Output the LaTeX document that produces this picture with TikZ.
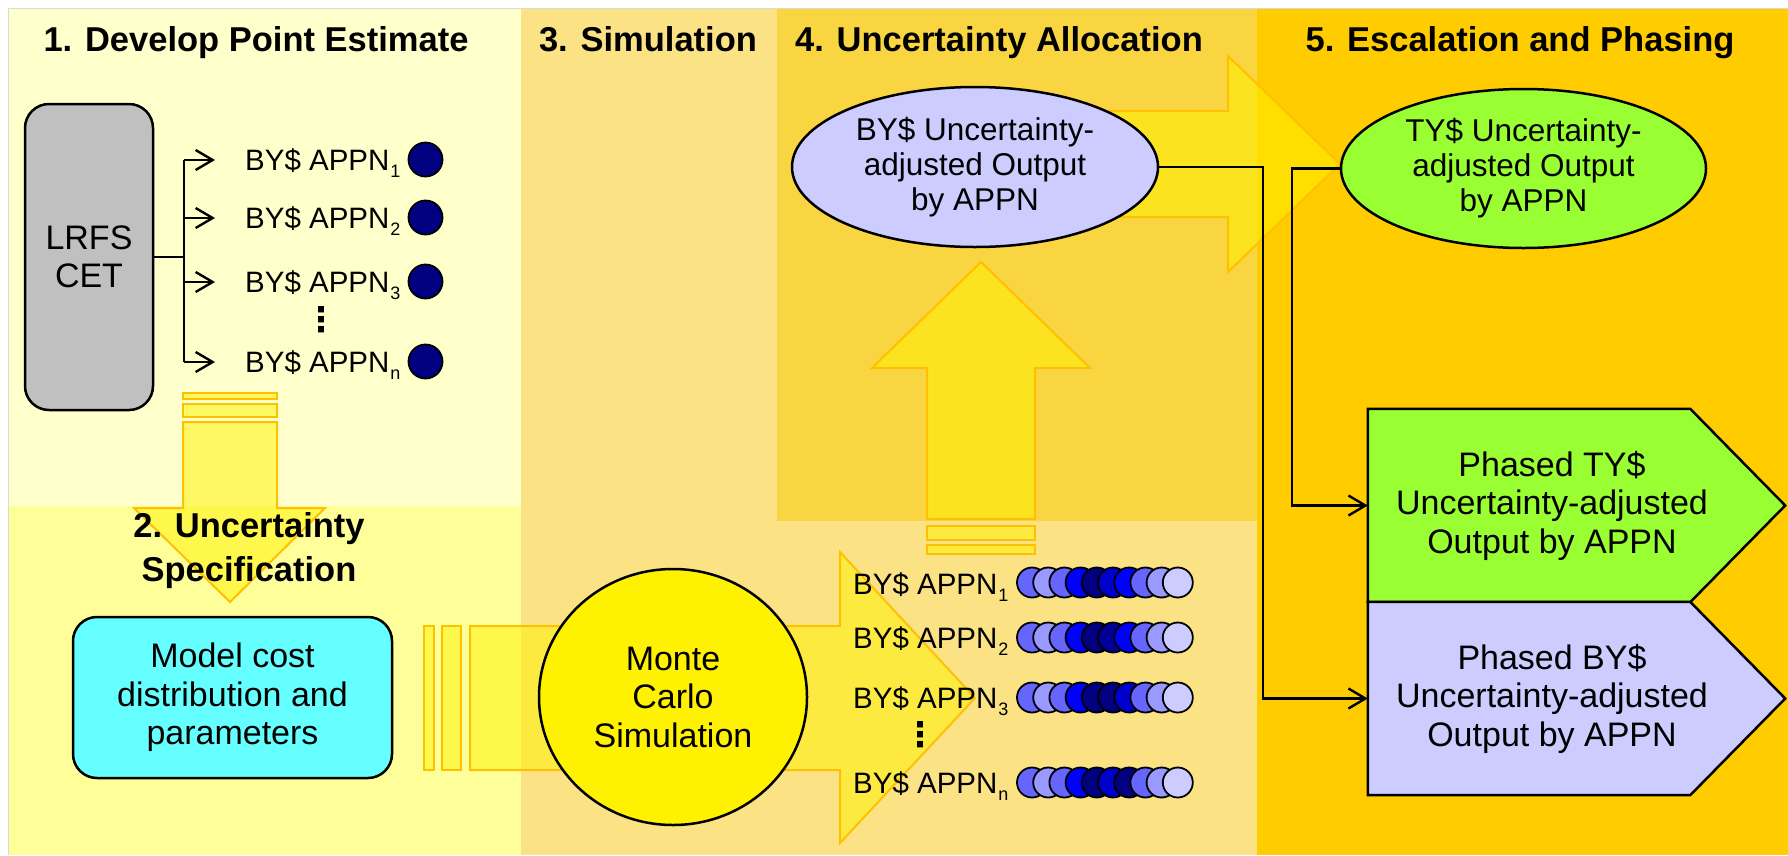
\documentclass[tikz,border=0pt]{standalone}
\usepackage{fontspec}
\setmainfont{Liberation Sans}
\newfontfamily\symfont{DejaVu Sans}
\usetikzlibrary{shapes.geometric,arrows.meta,calc}

\definecolor{paneA}{HTML}{FFFFCC}
\definecolor{paneB}{HTML}{FFFF99}
\definecolor{paneC}{HTML}{FBE284}
\definecolor{paneD}{HTML}{FAD542}
\definecolor{paneE}{HTML}{FFCC00}
\definecolor{boxgray}{HTML}{C0C0C0}
\definecolor{boxcyan}{HTML}{66FFFF}
\definecolor{lav}{HTML}{CCCCFF}
\definecolor{lime}{HTML}{99FF33}
\definecolor{arrowedge}{HTML}{FFC000}
\definecolor{navyblue}{HTML}{000080}
\definecolor{dotA}{HTML}{6666FF}
\definecolor{dotB}{HTML}{9999FF}
\definecolor{dotC}{HTML}{0000FF}
\definecolor{dotD}{HTML}{0000CC}
\definecolor{dotE}{HTML}{000099}

% lowered small index after an appropriation name
\newcommand\lowidx[1]{\kern1pt\raisebox{-7pt}{\fontsize{18}{18}\selectfont #1}}

\begin{document}
\begin{tikzpicture}[x=1pt,y=-1pt,
  title/.style={font=\fontsize{34.5}{44}\selectfont\bfseries, align=center, inner sep=0pt},
  bodytext/.style={font=\fontsize{34}{38.5}\selectfont, align=center, inner sep=0pt},
  elltext/.style={font=\fontsize{31.5}{35}\selectfont, align=center, inner sep=0pt},
  lbl/.style={font=\fontsize{29.5}{35}\selectfont, inner sep=0pt},
  bigarrow/.style={fill=yellow, fill opacity=0.5, draw=arrowedge, line width=2pt, line join=miter},
  outline/.style={draw=black, line width=2.5pt},
  roundbox/.style={outline, rounded corners=24pt, bodytext},
  oval/.style={ellipse, outline, elltext},
  navydot/.style={circle, draw=black, line width=1.8pt, fill=navyblue, minimum size=34pt, inner sep=0pt},
  bluedot/.style={circle, draw=black, line width=1.8pt, minimum size=30pt, inner sep=0pt},
  conn/.style={draw=black, line width=2.4pt},
  tip/.style={-{Straight Barb[length=17pt,width=20pt]}},
  vdot/.style={font=\symfont\bfseries\fontsize{34}{34}\selectfont, inner sep=0pt}]

\useasboundingbox (0,0) rectangle (1788,855);
\fill[white] (0,0) rectangle (1788,855);

% stage panels
\fill[paneA] (8,8) rectangle (521,506);
\fill[paneB] (8,506) rectangle (521,855);
\fill[paneC] (521,8) rectangle (1257,855);
\fill[paneD] (777,8) rectangle (1257,521);
\fill[paneE] (1257,8) rectangle (1788,855);
\draw[black!15, line width=1pt] (8,855) -- (8,8) -- (1788,8);

% broad process arrows
\draw[bigarrow] (183,393) rectangle (277,399);
\draw[bigarrow] (183,404) rectangle (277,417);
\draw[bigarrow] (183,422) -- (277,422) -- (277,508) -- (325,508) -- (230,602) -- (134,508) -- (183,508) -- cycle;

\draw[bigarrow] (424,626) rectangle (434,770);
\draw[bigarrow] (442,626) rectangle (461,770);
\draw[bigarrow] (470,626) -- (840,626) -- (840,552) -- (975,698) -- (840,843) -- (840,770) -- (470,770) -- cycle;

\draw[bigarrow] (927,545) rectangle (1035,554);
\draw[bigarrow] (927,526) rectangle (1035,540);
\draw[bigarrow] (927,519) -- (927,368) -- (872,368) -- (981,262) -- (1090,368) -- (1035,368) -- (1035,519) -- cycle;

\draw[bigarrow] (1060,111) -- (1228,111) -- (1228,56) -- (1340,164) -- (1228,272) -- (1228,217) -- (1060,217) -- cycle;

% stage titles
\node[title, anchor=base] (t1) at (256,51) {1. Develop Point Estimate};
\node[title] (t2) at (249,551) {2. Uncertainty\\Specification};
\node[title, anchor=base] (t3) at (648,51) {3. Simulation};
\node[title, anchor=base] (t4) at (999,51) {4. Uncertainty Allocation};
\node[title, anchor=base] (t5) at (1520,51) {5. Escalation and Phasing};

% stage 1: point estimate split by appropriation
\node[roundbox, fill=boxgray, minimum width=128pt, minimum height=306pt] (lrfs) at (89,257) {LRFS\\CET};
\node[lbl, anchor=base west] (p1) at (245,170) {BY\$ APPN\lowidx{1}};
\node[lbl, anchor=base west] (p2) at (245,228) {BY\$ APPN\lowidx{2}};
\node[lbl, anchor=base west] (p3) at (245,292) {BY\$ APPN\lowidx{3}};
\node[lbl, anchor=base west] (pn) at (245,372) {BY\$ APPN\lowidx{n}};
\node[vdot] (pv) at (321,320) {⋮};
\node[navydot] (q1) at (425.5,159.5) {};
\node[navydot] (q2) at (425.5,217.5) {};
\node[navydot] (q3) at (425.5,281.5) {};
\node[navydot] (qn) at (425.5,361.5) {};

\coordinate (trunk) at (184,257);
\coordinate (a1) at ([xshift=-30pt,yshift=10pt]p1.base west);
\coordinate (a2) at ([xshift=-30pt,yshift=10pt]p2.base west);
\coordinate (a3) at ([xshift=-30pt,yshift=10pt]p3.base west);
\coordinate (an) at ([xshift=-30pt,yshift=10pt]pn.base west);
\draw[conn] (lrfs.east |- trunk) -- (trunk);
\draw[conn] (a1 -| trunk) -- (an -| trunk);
\foreach \a in {a1,a2,a3,an}
  \draw[conn, tip] (\a -| trunk) -- (\a);

% stage 2: uncertainty specification
\node[roundbox, fill=boxcyan, minimum width=319pt, minimum height=161pt] (model) at (232.5,697.5) {Model cost\\distribution and\\parameters};

% stage 3: simulation
\node[ellipse, outline, bodytext, fill=yellow, minimum width=268pt, minimum height=256pt] (monte) at (673,697) {Monte\\Carlo\\Simulation};

\node[lbl, anchor=base west] (s1) at (853,594) {BY\$ APPN\lowidx{1}};
\node[lbl, anchor=base west] (s2) at (853,648) {BY\$ APPN\lowidx{2}};
\node[lbl, anchor=base west] (s3) at (853,708) {BY\$ APPN\lowidx{3}};
\node[lbl, anchor=base west] (sn) at (853,793) {BY\$ APPN\lowidx{n}};
\node[vdot] (sv) at (920,735) {⋮};

\foreach \c [count=\i from 0] in {dotA,dotB,dotA,dotC,navyblue,dotD,dotC,dotA,dotB,lav}
  \node[bluedot, fill=\c] (ra\i) at ({1032+16.2*\i},582.5) {};
\foreach \c [count=\i from 0] in {dotA,dotB,dotA,dotC,navyblue,dotE,dotC,dotA,dotB,lav}
  \node[bluedot, fill=\c] (rb\i) at ({1032+16.2*\i},637.5) {};
\foreach \c [count=\i from 0] in {dotA,dotB,dotA,dotC,navyblue,navyblue,dotD,dotA,dotB,lav}
  \node[bluedot, fill=\c] (rc\i) at ({1032+16.2*\i},697.5) {};
\foreach \c [count=\i from 0] in {dotA,dotB,dotA,dotC,navyblue,dotD,navyblue,dotA,dotB,lav}
  \node[bluedot, fill=\c] (rn\i) at ({1032+16.2*\i},782.5) {};

% stage 4: allocation
\node[oval, fill=lav, minimum width=366pt, minimum height=160pt] (byout) at (975,167) {BY\$ Uncertainty-\\adjusted Output\\by APPN};

% stage 5: escalation and phasing
\node[oval, fill=lime, minimum width=365pt, minimum height=159pt] (tyout) at (1523.5,168.5) {TY\$ Uncertainty-\\adjusted Output\\by APPN};

\node[minimum width=322pt, minimum height=193pt, inner sep=0pt] (phTY) at (1529,505.5) {};
\node[minimum width=322pt, minimum height=193pt, inner sep=0pt] (phBY) at (1529,698.5) {};
\draw[outline, fill=lime] (phTY.north west) -- (phTY.north east) -- ([xshift=95pt]phTY.east) -- (phTY.south east) -- (phTY.south west) -- cycle;
\draw[outline, fill=lav] (phBY.north west) -- (phBY.north east) -- ([xshift=95pt]phBY.east) -- (phBY.south east) -- (phBY.south west) -- cycle;
\node[bodytext] (phTYtext) at ([xshift=23pt]phTY.center) {Phased TY\$\\Uncertainty-adjusted\\Output by APPN};
\node[bodytext] (phBYtext) at ([xshift=23pt]phBY.center) {Phased BY\$\\Uncertainty-adjusted\\Output by APPN};

\coordinate (bendBY) at (1263,0);
\coordinate (bendTY) at (1292,0);
\draw[conn, tip] (byout.east) -- (byout.east -| bendBY) -- (bendBY |- phBY.west) -- (phBY.west);
\draw[conn, tip] (tyout.west) -- (tyout.west -| bendTY) -- (bendTY |- phTY.west) -- (phTY.west);

\end{tikzpicture}
\end{document}
